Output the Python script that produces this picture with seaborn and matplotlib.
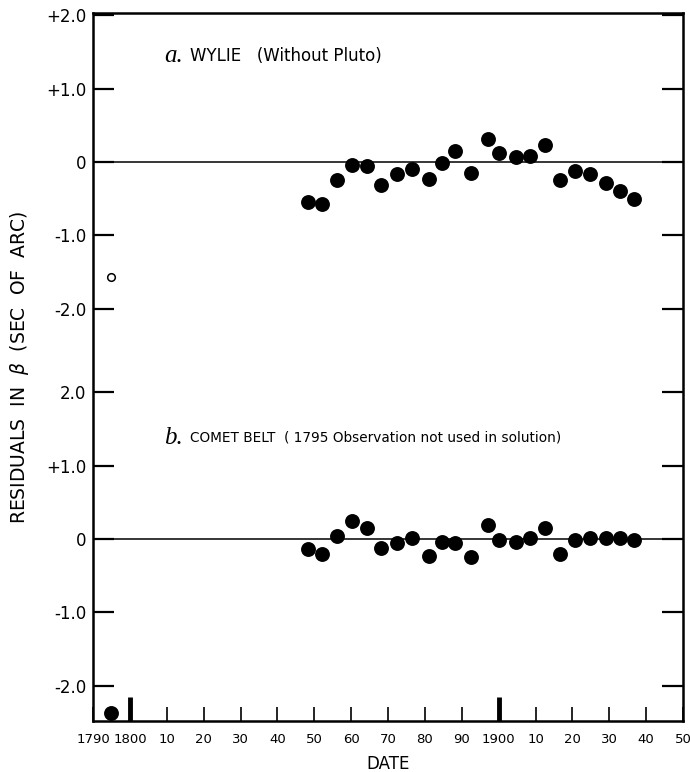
import matplotlib
matplotlib.use('Agg')
import matplotlib.pyplot as plt
import seaborn as sns
import pandas as pd
from matplotlib.ticker import FixedLocator

sns.set_theme(style='ticks')
plt.rcParams['font.family'] = ['DejaVu Sans']
plt.rcParams['text.color'] = 'black'
plt.rcParams['axes.labelcolor'] = 'black'
plt.rcParams['xtick.color'] = 'black'
plt.rcParams['ytick.color'] = 'black'

# observation dates (same for both solutions)
dates = [1848.3, 1852.2, 1856.2, 1860.3, 1864.2, 1868.2, 1872.5, 1876.5,
         1881.1, 1884.6, 1888.2, 1892.5, 1897.2, 1900.2, 1904.7, 1908.6,
         1912.6, 1916.7, 1920.8, 1924.8, 1929.0, 1933.0, 1936.8]

# a. Wylie (without Pluto)
wylie = [-0.55, -0.58, -0.24, -0.04, -0.06, -0.31, -0.17, -0.09,
         -0.23, -0.01, 0.15, -0.15, 0.31, 0.12, 0.07, 0.08,
         0.23, -0.24, -0.13, -0.17, -0.29, -0.40, -0.50]

# b. Comet belt
comet = [-0.14, -0.20, 0.04, 0.25, 0.15, -0.12, -0.05, 0.01,
         -0.23, -0.04, -0.05, -0.24, 0.19, -0.02, -0.04, 0.01,
         0.15, -0.20, -0.02, 0.02, 0.01, 0.02, -0.02]

# the 1795 observation
obs1795_date = 1795.0
obs1795_wylie = -1.57   # open circle
obs1795_comet = -2.37   # off scale, drawn at the bottom edge

top_offset = 5.14   # panel a is stacked above panel b on one axis

dfA = pd.DataFrame({'date': dates, 'resid': wylie})
dfA['y'] = dfA['resid'] + top_offset
dfB = pd.DataFrame({'date': dates, 'resid': comet})
dfB['y'] = dfB['resid']

fig = plt.figure(figsize=(6.9, 7.72), dpi=100)
ax = fig.add_axes([0.1348, 0.0661, 0.9899 - 0.1348, 0.9832 - 0.0661])

# zero lines
ax.axhline(0, color='black', lw=1.1, zorder=1)
ax.axhline(top_offset, color='black', lw=1.1, zorder=1)

sns.scatterplot(data=dfA, x='date', y='y', ax=ax, color='black', s=115,
                edgecolor='black', linewidth=0, zorder=3)
sns.scatterplot(data=dfB, x='date', y='y', ax=ax, color='black', s=115,
                edgecolor='black', linewidth=0, zorder=3)
ax.scatter([obs1795_date], [obs1795_wylie + top_offset], s=30,
           facecolor='white', edgecolor='black', linewidth=1.1, zorder=3)
ax.scatter([obs1795_date], [obs1795_comet], s=115, color='black',
           linewidth=0, zorder=3, clip_on=False)

ax.set_xlim(1790, 1950)
ax.set_ylim(-2.48, top_offset + 2.03)

# y ticks: two panels
ytick_vals = [-2, -1, 0, 1, 2]
ytick_pos = ytick_vals + [v + top_offset for v in ytick_vals]
ytick_lab = ['-2.0', '-1.0', '0', '+1.0', '2.0',
             '-2.0', '-1.0', '0', '+1.0', '+2.0']
ax.set_yticks(ytick_pos)
ax.set_yticklabels(ytick_lab, fontsize=12)

# x ticks: every decade, heavier marks at the century years
decades = list(range(1790, 1951, 10))
dec_lab = ['1790', '1800', '10', '20', '30', '40', '50', '60', '70', '80',
           '90', '1900', '10', '20', '30', '40', '50']
ax.set_xticks(decades)
ax.set_xticklabels(dec_lab, fontsize=9.5)
ax.xaxis.remove_overlapping_locs = False
ax.xaxis.set_minor_locator(FixedLocator([1800, 1900]))

ax.tick_params(axis='y', direction='in', left=True, right=True, length=15,
               width=1.6, pad=5)
ax.tick_params(axis='x', which='major', direction='in', length=10,
               width=1.2, pad=9)
ax.tick_params(axis='x', which='minor', direction='in', length=17,
               width=3.5, bottom=True)

for sp in ax.spines.values():
    sp.set_linewidth(1.8)
    sp.set_color('black')

ax.set_xlabel('DATE', fontsize=12, labelpad=6)
ax.set_ylabel('RESIDUALS  IN  $\\beta$  (SEC  OF  ARC)', fontsize=13.5)
ax.yaxis.set_label_coords(-0.105, 0.5)

# panel captions
ax.text(1809.3, top_offset + 1.45, 'a.', family='Liberation Serif',
        style='italic', fontsize=18, va='center')
ax.text(1816.3, top_offset + 1.45, 'WYLIE   (Without Pluto)', fontsize=12,
        va='center')
ax.text(1809.3, 1.38, 'b.', family='Liberation Serif', style='italic',
        fontsize=18, va='center')
ax.text(1816.3, 1.38, 'COMET BELT  ( 1795 Observation not used in solution)',
        fontsize=9.8, va='center')

fig.savefig('out.png', dpi=100)
